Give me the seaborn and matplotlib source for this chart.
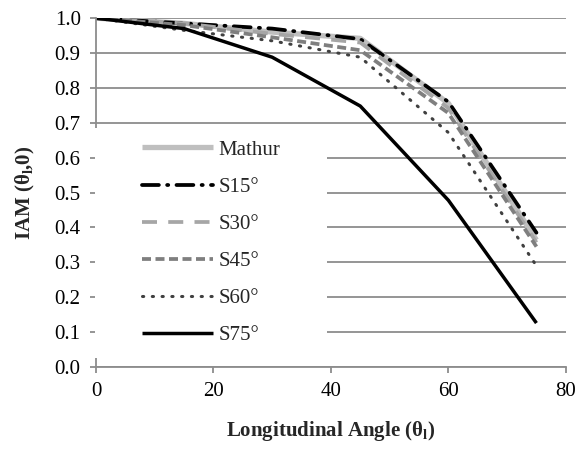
import matplotlib
matplotlib.use("Agg")
import matplotlib.pyplot as plt
from matplotlib.path import Path
import seaborn as sns
import pandas as pd

angles = [0, 15, 30, 45, 60, 75]
mathur = [1.0, 0.985, 0.96, 0.942, 0.756, 0.364]
s15 = [1.0, 0.985, 0.97, 0.94, 0.76, 0.385]
s30 = [1.0, 0.985, 0.955, 0.93, 0.742, 0.357]
s45 = [1.0, 0.98, 0.945, 0.908, 0.728, 0.345]
s60 = [1.0, 0.965, 0.935, 0.888, 0.672, 0.29]
s75 = [1.0, 0.97, 0.888, 0.748, 0.478, 0.126]
labels = ["Mathur", "S15°", "S30°", "S45°", "S60°", "S75°"]
xticks = [0, 20, 40, 60, 80]
yticks = [0.0, 0.1, 0.2, 0.3, 0.4, 0.5, 0.6, 0.7, 0.8, 0.9, 1.0]

sns.set_theme(style="white")
plt.rcParams['font.family'] = ['Liberation Serif', 'DejaVu Serif']
plt.rcParams['mathtext.fontset'] = 'custom'
plt.rcParams['mathtext.rm'] = 'Liberation Serif'
plt.rcParams['mathtext.bf'] = 'Liberation Serif:bold'
plt.rcParams['mathtext.it'] = 'Liberation Serif:italic'

fig = plt.figure(figsize=(5.75, 4.49), dpi=100)
ax = fig.add_axes([0.167, 0.1826, 0.817, 0.777])

styles = [
    dict(color="#BFBFBF", lw=3.8, ls="-", cap="butt"),
    dict(color="#000000", lw=2.7, ls=(0, (4.5, 2.2, 0.3, 2.2)), cap="round"),
    dict(color="#A6A6A6", lw=2.7, ls=(0, (4, 3)), cap="butt"),
    dict(color="#7F7F7F", lw=2.7, ls=(0, (2.4, 1.2)), cap="butt"),
    dict(color="#404040", lw=2.2, ls=(0, (0.4, 2.8)), cap="round"),
    dict(color="#000000", lw=2.5, ls="-", cap="butt"),
]
series = [mathur, s15, s30, s45, s60, s75]
for vals, lab, st in zip(series, labels, styles):
    df = pd.DataFrame({"x": angles, "y": vals})
    sns.lineplot(data=df, x="x", y="y", ax=ax, label=lab, color=st["color"],
                 linewidth=st["lw"], linestyle=st["ls"], dash_capstyle=st["cap"],
                 solid_capstyle="butt")

ax.set_xlim(0, 80)
ax.set_ylim(0, 1.0)
ax.set_xticks(xticks)
ax.set_xticklabels([str(v) for v in xticks])
ax.set_yticks(yticks)
ax.set_yticklabels([f"{v:.1f}" for v in yticks])
ax.yaxis.grid(True, color="#8C8C8C", linewidth=1.3)
ax.xaxis.grid(False)
for s in ["top", "right"]:
    ax.spines[s].set_visible(False)
for s in ["left", "bottom"]:
    ax.spines[s].set_color("#8C8C8C")
    ax.spines[s].set_linewidth(1.3)
ax.tick_params(axis="both", which="major", length=4, width=1.3, color="#8C8C8C",
               labelsize=15, labelcolor="black", direction="out", left=True, bottom=True, pad=7)
ax.set_xlabel("Longitudinal Angle (θ$_\\mathbf{l}$)", fontsize=15, fontweight="bold", labelpad=13)
ax.set_ylabel("IAM (θ$_\\mathbf{l}$,0)", fontsize=15, fontweight="bold", labelpad=13)

leg = ax.legend(loc="upper left", bbox_to_anchor=(0.072, 0.686), frameon=True, fancybox=False,
                framealpha=1.0, edgecolor="white", facecolor="white", fontsize=15,
                handlelength=3.4, labelspacing=0.84, borderpad=0.6, handletextpad=0.25,
                borderaxespad=0.0)
leg.get_frame().set_linewidth(0)


def wide_box(x0, y0, width, height, mutation_size):
    padx = 1.65 * mutation_size
    return Path([(x0 - padx, y0), (x0 + width + padx, y0), (x0 + width + padx, y0 + height),
                 (x0 - padx, y0 + height), (x0 - padx, y0)], closed=True)


leg.get_frame().set_boxstyle(wide_box)

fig.savefig("out.png", dpi=100)
